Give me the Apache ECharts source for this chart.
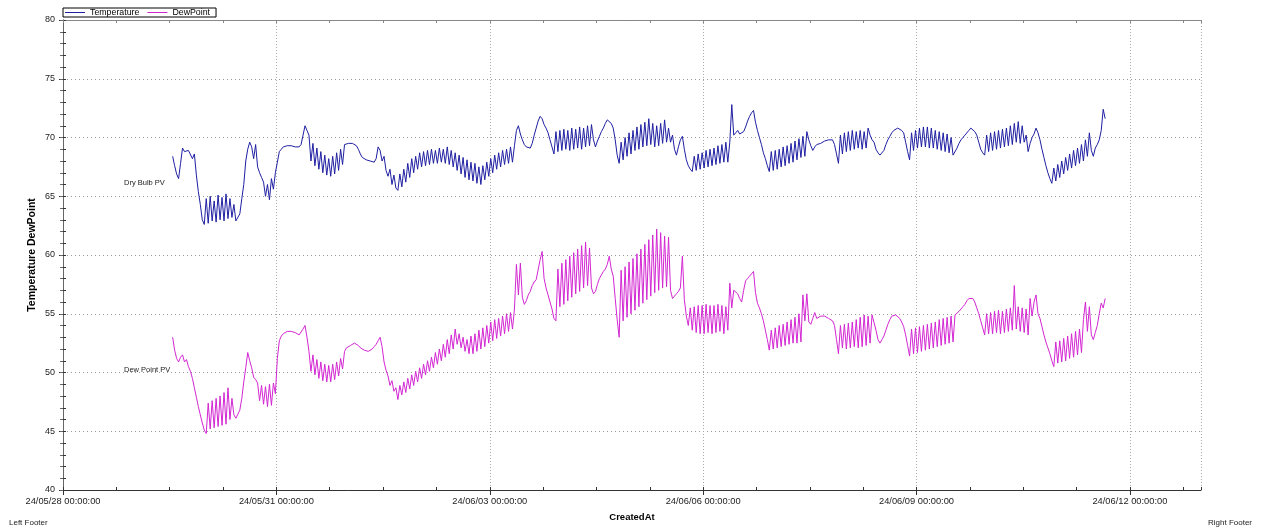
<!DOCTYPE html>
<html>
<head>
<meta charset="utf-8">
<script src="https://cdn.jsdelivr.net/npm/echarts@6/dist/echarts.min.js"></script>
<style>
html,body{margin:0;padding:0;background:#fff;}
#chart{width:1263px;height:531px;}
</style>
</head>
<body>
<div id="chart"></div>
<script>
// Data: readings every 40 minutes starting 2024-05-29 13:00
const seriesNames = ['Temperature', 'DewPoint'];
const startHour = 37;          // hours after 2024-05-28 00:00:00
const stepMinutes = 40;
const xTickHours = [0, 72, 144, 216, 288, 360]; // tick labels every 3 days

const temperature = [
68.4,67.6,66.9,66.5,67.8,69.1,68.8,68.7,68.9,68.8,
68.2,68.6,66.8,65.4,64.3,63.0,62.6,64.8,62.7,65.0,
62.9,64.6,62.8,65.1,63.0,64.9,62.9,65.2,63.1,64.8,
63.2,64.3,62.9,62.8,63.5,64.8,66.0,68.0,69.0,69.6,
69.2,68.2,69.4,67.5,67.0,66.6,66.2,65.0,66.0,64.7,
66.5,65.6,67.0,67.9,68.8,69.0,69.2,69.2,69.3,69.2,
69.3,69.2,69.2,69.3,69.2,69.4,70.2,71.0,70.6,70.2,
68.0,69.5,67.6,69.1,67.3,68.8,67.0,68.5,66.8,68.2,
66.7,68.4,66.9,68.7,67.2,69.0,67.7,69.4,69.3,69.5,
69.6,69.5,69.4,69.3,69.0,68.6,68.3,68.2,68.1,68.0,
68.0,67.9,67.9,68.2,69.2,68.9,68.0,68.4,67.2,66.7,
67.3,66.0,66.8,65.7,65.5,66.9,65.8,67.3,66.2,67.8,
66.6,68.2,67.0,68.4,67.3,68.7,67.5,68.8,67.6,68.9,
67.7,69.0,67.8,68.9,67.8,69.1,67.9,69.0,67.8,69.2,
67.7,68.9,67.5,68.7,67.2,68.5,66.9,68.3,66.6,68.1,
66.4,67.9,66.3,67.8,66.1,67.5,66.0,67.6,66.4,67.9,
66.7,68.2,67.0,68.5,67.3,68.7,67.5,68.9,67.7,69.0,
67.8,69.2,67.9,69.3,70.6,71.0,70.3,69.8,69.4,69.2,
69.1,69.1,69.5,70.2,70.8,71.4,71.8,71.6,71.1,70.8,
70.4,69.8,69.2,68.6,70.5,68.8,70.6,68.9,70.7,69.0,
70.6,68.9,70.8,69.0,70.7,69.1,70.9,69.0,70.8,69.2,
71.0,69.3,71.1,69.8,69.2,69.7,70.1,70.5,70.8,71.2,
71.5,71.6,71.2,70.8,69.8,68.5,67.8,69.6,68.1,70.0,
68.4,70.4,68.6,70.6,68.9,70.9,69.0,71.1,69.2,71.3,
69.3,71.6,69.4,71.2,69.2,71.0,69.3,71.2,69.5,71.5,
69.6,70.8,69.6,70.2,69.0,68.5,69.2,69.8,70.1,69.0,
68.1,67.6,67.3,67.1,68.4,67.2,68.6,67.3,68.7,67.4,
68.9,67.5,69.0,67.6,69.1,67.7,69.3,67.8,69.4,67.9,
69.6,67.9,69.6,72.8,70.2,70.4,70.6,70.3,70.2,70.5,
70.9,71.4,71.8,72.1,72.3,71.3,70.6,70.0,69.4,68.7,
68.2,67.6,67.1,68.8,67.2,68.9,67.3,69.0,67.5,69.2,
67.6,69.3,67.8,69.5,67.9,69.7,68.1,69.9,68.3,70.1,
68.4,70.5,69.8,69.3,68.9,69.2,69.4,69.3,69.5,69.6,
69.7,69.8,69.8,69.9,69.8,69.4,68.6,67.8,70.2,68.6,
70.4,68.8,70.5,68.9,70.6,69.0,70.5,69.1,70.6,69.0,
70.5,69.1,70.8,70.2,69.8,69.6,69.0,68.7,68.5,68.5,
68.9,69.4,69.8,70.1,70.4,70.6,70.7,70.8,70.7,70.6,
70.4,69.6,68.8,68.1,70.4,68.9,70.6,69.1,70.8,69.2,
70.9,69.2,70.9,69.1,70.8,69.1,70.6,69.0,70.5,68.9,
70.4,68.8,70.3,68.7,70.0,68.5,68.4,69.1,69.5,69.8,
70.0,70.2,70.3,70.6,70.8,70.7,70.5,70.2,69.6,69.0,
68.7,68.5,70.2,68.8,70.4,68.9,70.5,69.0,70.6,69.1,
70.7,69.2,70.8,69.3,71.0,69.4,71.2,69.6,71.35,69.5,
71.0,69.6,70.2,68.8,69.5,70.0,70.3,70.8,70.4,69.8,
69.0,68.3,67.6,67.0,66.5,66.1,67.4,66.3,67.7,66.6,
68.0,66.9,68.3,67.2,68.6,67.4,68.9,67.6,69.1,67.8,
69.4,68.0,69.8,68.4,70.4,68.9,68.4,69.1,69.4,69.8,
70.6,72.4,71.6
];

const dewPoint = [
53.0,51.9,51.2,50.9,51.3,51.5,50.9,51.1,50.5,50.1,
49.5,48.7,47.9,47.1,46.4,45.7,45.1,44.8,47.4,45.2,
47.6,45.3,47.8,45.4,48.0,45.5,48.3,45.6,48.7,46.0,
47.8,46.4,46.1,46.0,46.8,47.8,49.2,50.4,51.7,51.0,
50.4,49.6,49.4,49.1,47.6,48.9,47.3,48.8,47.1,49.0,
47.2,49.1,48.2,51.2,52.7,53.1,53.3,53.4,53.5,53.6,
53.5,53.4,53.4,53.3,53.2,53.3,53.7,54.0,53.0,51.8,
50.1,51.5,49.8,51.1,49.5,50.9,49.3,50.7,49.2,50.6,
49.2,50.7,49.4,50.9,49.7,51.2,50.3,51.8,52.1,52.2,
52.3,52.4,52.5,52.4,52.3,52.1,52.0,51.9,51.8,51.8,
51.9,52.0,52.2,52.4,52.7,53.0,52.2,50.9,50.2,49.7,
48.9,49.3,48.4,48.7,47.7,48.9,48.1,49.2,48.3,49.5,
48.6,49.8,48.9,50.1,49.2,50.4,49.5,50.7,49.8,51.0,
50.1,51.3,50.4,51.7,50.7,52.0,51.0,52.4,51.3,52.8,
51.6,53.2,52.0,53.7,52.4,53.3,52.1,53.0,51.8,52.8,
51.6,53.1,51.6,53.3,51.8,53.6,52.0,53.8,52.2,54.0,
52.5,54.3,52.7,54.5,52.9,54.6,53.1,54.8,53.3,55.0,
53.5,55.1,53.7,55.4,59.2,56.6,59.3,56.4,55.8,56.1,
56.6,56.9,57.4,57.7,57.9,58.0,59.6,60.3,58.0,57.2,
56.6,56.0,55.4,54.6,54.4,58.8,55.6,59.3,55.8,59.6,
56.1,59.9,56.4,60.2,56.7,60.5,56.9,60.8,57.2,61.1,
57.4,60.6,57.2,56.7,56.9,57.5,58.0,58.3,58.6,58.8,
59.2,59.9,58.8,58.2,56.3,54.5,53.0,58.7,54.4,59.0,
54.7,59.4,55.0,59.7,55.3,60.1,55.6,60.5,55.9,60.9,
56.2,61.3,56.5,61.7,56.8,62.2,57.0,61.9,57.2,61.6,
57.3,61.5,57.0,56.3,56.5,56.7,56.9,57.2,59.9,56.2,
54.8,54.0,55.5,53.6,55.6,53.4,55.7,53.3,55.7,53.3,
55.8,53.4,55.7,53.3,55.7,53.4,55.8,53.5,55.7,53.3,
55.6,53.6,57.6,55.5,57.0,56.9,56.7,56.3,56.0,57.0,
57.8,58.0,58.2,58.4,58.6,56.8,55.9,55.5,55.0,54.4,
53.6,52.8,51.9,53.6,52.0,53.8,52.1,54.0,52.2,54.1,
52.3,54.3,52.4,54.5,52.5,54.7,52.5,55.0,52.6,56.6,
54.4,56.7,54.3,54.1,54.6,55.1,54.6,54.5,54.8,54.9,
54.8,54.7,54.6,54.5,54.4,54.0,52.8,51.6,54.0,52.1,
54.1,52.0,54.2,52.1,54.3,52.2,54.5,52.1,54.7,52.2,
54.9,52.3,54.8,52.5,54.9,55.0,53.6,52.8,52.5,52.8,
53.1,53.6,54.1,54.5,54.8,54.9,54.9,54.8,54.6,54.3,
53.9,53.2,52.3,51.4,53.7,51.6,53.8,51.7,53.9,51.8,
54.0,51.9,54.1,52.0,54.2,52.1,54.3,52.2,54.5,52.3,
54.6,52.4,54.7,52.5,54.8,52.6,54.9,54.8,55.2,55.4,
55.6,55.8,56.1,56.3,56.4,56.3,56.0,55.5,55.0,54.4,
53.8,53.2,55.0,53.3,55.1,53.3,55.2,53.4,55.3,53.3,
55.2,53.4,55.4,53.5,55.5,53.6,57.4,53.7,55.6,53.5,
55.5,53.4,55.4,53.2,56.3,54.8,56.0,56.6,55.0,54.6,
53.9,53.2,52.6,52.1,51.6,51.0,50.5,52.6,50.8,52.7,
50.9,52.9,51.0,53.1,51.2,53.3,51.3,53.5,51.5,53.7,
51.7,54.5,56.0,53.5,55.6,53.2,52.8,53.4,54.0,55.0,
55.9,55.5,56.3
];

const baseUTC = Date.UTC(2024, 4, 28, 0, 0, 0);
function pad(n){ return String(n).padStart(2, '0'); }
function fmtHour(h){
  const d = new Date(baseUTC + h * 3600000);
  return pad(d.getUTCFullYear() % 100) + '/' + pad(d.getUTCMonth() + 1) + '/' + pad(d.getUTCDate()) +
    ' ' + pad(d.getUTCHours()) + ':' + pad(d.getUTCMinutes()) + ':' + pad(d.getUTCSeconds());
}
function toPairs(vals){ return vals.map((v, i) => [startHour + i * stepMinutes / 60, v]); }

const FONT = '"Liberation Sans", Arial, sans-serif';
const chart = echarts.init(document.getElementById('chart'), null, {renderer: 'canvas'});
const X_MIN = 0, X_MAX = 384;
const TEMP_COLOR = '#1f1fa3';
const DEW_COLOR = '#d326d3';

const option = {
  animation: false,
  backgroundColor: '#ffffff',
  textStyle: {fontFamily: FONT},
  grid: {left: 63, right: 62, top: 20, bottom: 41, containLabel: false},
  legend: {
    left: 63, top: 8, orient: 'horizontal',
    data: [
      {name: seriesNames[0], icon: 'rect', itemStyle: {color: TEMP_COLOR}},
      {name: seriesNames[1], icon: 'rect', itemStyle: {color: DEW_COLOR}}
    ],
    itemWidth: 20, itemHeight: 1, itemGap: 8,
    padding: [0, 6, 0, 2],
    borderColor: '#000', borderWidth: 1,
    textStyle: {fontFamily: FONT, fontSize: 8.8, color: '#000', lineHeight: 9}
  },
  xAxis: [
    { // main bottom axis with labels and 3-day grid
      type: 'value', position: 'bottom', min: X_MIN, max: X_MAX, interval: 72,
      name: 'CreatedAt', nameLocation: 'middle', nameGap: 22, nameMoveOverlap: false,
      nameTextStyle: {fontFamily: FONT, fontSize: 9.5, fontWeight: 'bold', color: '#000'},
      axisLine: {show: true, lineStyle: {color: '#333', width: 1}},
      axisTick: {show: true, length: 5, inside: false, lineStyle: {color: '#333'}},
      axisLabel: {
        show: true, margin: 7, fontFamily: FONT, fontSize: 9.3, color: '#222',
        showMaxLabel: false,
        formatter: v => (xTickHours.indexOf(v) >= 0 ? fmtHour(v) : '')
      },
      splitLine: {show: true, lineStyle: {color: '#aaa', type: [1, 2], width: 1}}
    },
    { // minor ticks every 18 h
      type: 'value', position: 'bottom', min: X_MIN, max: X_MAX, interval: 18,
      axisLine: {show: false}, axisLabel: {show: false}, splitLine: {show: false},
      axisTick: {show: true, inside: true, length: 3, lineStyle: {color: '#333'}}
    },
    { // top frame
      type: 'value', position: 'top', min: X_MIN, max: X_MAX, interval: 18,
      axisLine: {show: true, lineStyle: {color: '#888', width: 1}},
      axisLabel: {show: false}, splitLine: {show: false},
      axisTick: {show: true, inside: true, length: 3, lineStyle: {color: '#888'}}
    }
  ],
  yAxis: [
    {
      type: 'value', position: 'left', min: 40, max: 80, interval: 5,
      name: 'Temperature DewPoint', nameLocation: 'middle', nameGap: 25, nameRotate: 90,
      nameMoveOverlap: false,
      nameTextStyle: {fontFamily: FONT, fontSize: 10.5, fontWeight: 'bold', color: '#000'},
      axisLine: {show: true, lineStyle: {color: '#333', width: 1}},
      axisTick: {show: true, length: 4, inside: false, lineStyle: {color: '#333'}},
      axisLabel: {show: true, margin: 8, fontFamily: FONT, fontSize: 9, color: '#222'},
      splitLine: {show: true, lineStyle: {color: '#999', type: [1, 3], width: 1}}
    },
    {
      type: 'value', position: 'left', min: 40, max: 80, interval: 1,
      axisLine: {show: false}, axisLabel: {show: false}, splitLine: {show: false},
      axisTick: {show: true, inside: true, length: 3, lineStyle: {color: '#333'}}
    },
    {
      type: 'value', position: 'right', min: 40, max: 80, interval: 1,
      axisLine: {show: true, lineStyle: {color: '#666', width: 1}},
      axisLabel: {show: false}, splitLine: {show: false},
      axisTick: {show: true, inside: true, length: 3, lineStyle: {color: '#666'}}
    }
  ],
  series: [
    {
      name: seriesNames[0], type: 'line', xAxisIndex: 0, yAxisIndex: 0,
      data: toPairs(temperature), symbol: 'none', smooth: false,
      lineStyle: {color: TEMP_COLOR, width: 1}, itemStyle: {color: TEMP_COLOR}
    },
    {
      name: seriesNames[1], type: 'line', xAxisIndex: 0, yAxisIndex: 0,
      data: toPairs(dewPoint), symbol: 'none', smooth: false,
      lineStyle: {color: DEW_COLOR, width: 1}, itemStyle: {color: DEW_COLOR}
    }
  ],
  graphic: [
    {type: 'text', left: 124, top: 179, style: {text: 'Dry Bulb PV', font: '7.5px ' + FONT, fill: '#222'}},
    {type: 'text', left: 124, top: 366, style: {text: 'Dew Point PV', font: '7.5px ' + FONT, fill: '#222'}},
    {type: 'text', left: 9, top: 519, style: {text: 'Left Footer', font: '8px ' + FONT, fill: '#222'}},
    {type: 'text', right: 11, top: 519, style: {text: 'Right Footer', font: '8px ' + FONT, fill: '#222'}}
  ]
};
chart.setOption(option);
</script>
</body>
</html>
